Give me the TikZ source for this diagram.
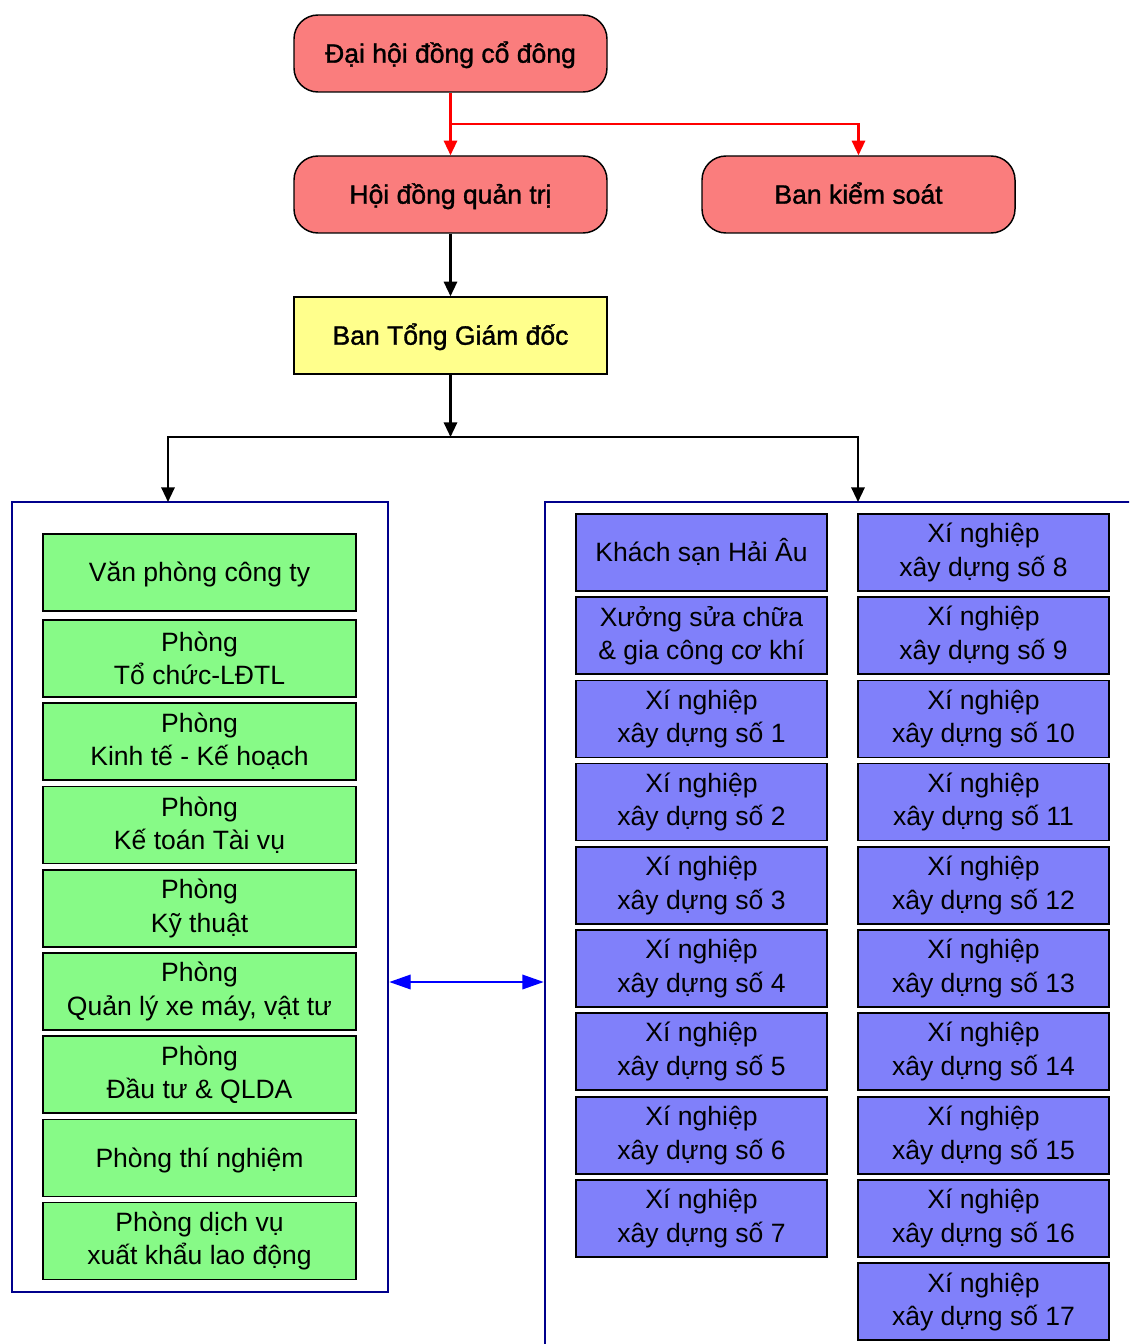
\documentclass[tikz,border=0pt]{standalone}
\usepackage{fontspec}
\setmainfont{Liberation Sans}
\newfontfamily\heavyish[FakeBold=1.2]{Liberation Sans}
\usetikzlibrary{arrows.meta,calc}
\definecolor{boxred}{RGB}{250,125,125}
\definecolor{boxyellow}{RGB}{255,255,140}
\definecolor{boxgreen}{RGB}{135,250,135}
\definecolor{boxblue}{RGB}{128,128,250}
\definecolor{navy}{RGB}{0,0,140}
\begin{document}
\begin{tikzpicture}[x=0.75pt,y=-0.75pt,
  base/.style={draw=black,line width=1.1pt,align=center,inner sep=0pt,
    font=\fontsize{19.9}{24.8}\selectfont,minimum height=57.75pt},
  oneline/.style={text height=17.3pt,text depth=3.5pt},
  topbox/.style={base,oneline,fill=boxred,rounded corners=18pt,minimum width=234.75pt,
    font=\heavyish\fontsize{19.9}{24.8}\selectfont},
  ybox/.style={base,oneline,fill=boxyellow,minimum width=234.75pt,
    font=\heavyish\fontsize{19.9}{24.8}\selectfont},
  gbox/.style={base,fill=boxgreen,minimum width=234.75pt},
  bbox/.style={base,fill=boxblue,minimum width=188.25pt},
  cont/.style={draw=navy,line width=2pt,inner sep=0pt},
  redarr/.style={draw=red,line width=1.6pt,-{Triangle[length=11pt,width=10pt]}},
  blkarr/.style={draw=black,line width=1.6pt,-{Triangle[length=11pt,width=10pt]}},
  bluearr/.style={draw=blue,line width=1pt,{Triangle[length=16pt,width=11pt]}-{Triangle[length=16pt,width=11pt]}}
]
\useasboundingbox (0,0) rectangle (1129,1344);
\clip (0,0) rectangle (1129,1344);

% containers
\node[cont,minimum width=282pt,minimum height=592.5pt] (Lc) at (200,897) {};
\node[cont,minimum width=491.25pt,minimum height=673.5pt] (Rc) at (872.5,951) {};

% top
\node[topbox] (dh) at (450.5,53.5) {Đại hội đồng cổ đông};
\node[topbox] (hd) at (450.5,194.5) {Hội đồng quản trị};
\node[topbox] (bks) at (858.5,194.5) {Ban kiểm soát};
\node[ybox] (btg) at (450.5,335.5) {Ban Tổng Giám đốc};

% green column
\node[gbox,oneline] (g1) at (199.5,572.5) {Văn phòng công ty};
\node[gbox] (g2) at (199.5,658.5) {Phòng\\Tổ chức-LĐTL};
\node[gbox] (g3) at (199.5,741.5) {Phòng\\Kinh tế - Kế hoạch};
\node[gbox] (g4) at (199.5,825) {Phòng\\Kế toán Tài vụ};
\node[gbox] (g5) at (199.5,908.5) {Phòng\\Kỹ thuật};
\node[gbox] (g6) at (199.5,991.5) {Phòng\\Quản lý xe máy, vật tư};
\node[gbox] (g7) at (199.5,1074.5) {Phòng\\Đầu tư \& QLDA};
\node[gbox,oneline] (g8) at (199.5,1158) {Phòng thí nghiệm};
\node[gbox] (g9) at (199.5,1241) {Phòng dịch vụ\\xuất khẩu lao động};

% blue left column
\node[bbox,oneline] (b1) at (701.5,552.5) {Khách sạn Hải Âu};
\node[bbox] (b2) at (701.5,635.5) {Xưởng sửa chữa\\\& gia công cơ khí};
\node[bbox] (b3) at (701.5,719) {Xí nghiệp\\xây dựng số 1};
\node[bbox] (b4) at (701.5,802) {Xí nghiệp\\xây dựng số 2};
\node[bbox] (b5) at (701.5,885.5) {Xí nghiệp\\xây dựng số 3};
\node[bbox] (b6) at (701.5,968.5) {Xí nghiệp\\xây dựng số 4};
\node[bbox] (b7) at (701.5,1051.5) {Xí nghiệp\\xây dựng số 5};
\node[bbox] (b8) at (701.5,1135.5) {Xí nghiệp\\xây dựng số 6};
\node[bbox] (b9) at (701.5,1218.5) {Xí nghiệp\\xây dựng số 7};

% blue right column
\node[bbox] (c8) at (983.5,552.5) {Xí nghiệp\\xây dựng số 8};
\node[bbox] (c9) at (983.5,635.5) {Xí nghiệp\\xây dựng số 9};
\node[bbox] (c10) at (983.5,719) {Xí nghiệp\\xây dựng số 10};
\node[bbox] (c11) at (983.5,802) {Xí nghiệp\\xây dựng số 11};
\node[bbox] (c12) at (983.5,885.5) {Xí nghiệp\\xây dựng số 12};
\node[bbox] (c13) at (983.5,968.5) {Xí nghiệp\\xây dựng số 13};
\node[bbox] (c14) at (983.5,1051.5) {Xí nghiệp\\xây dựng số 14};
\node[bbox] (c15) at (983.5,1135.5) {Xí nghiệp\\xây dựng số 15};
\node[bbox] (c16) at (983.5,1218.5) {Xí nghiệp\\xây dựng số 16};
\node[bbox] (c17) at (983.5,1301.5) {Xí nghiệp\\xây dựng số 17};

% connectors
\coordinate (rj) at (450.5,124);
\coordinate (bj) at (450.5,437);
\coordinate (la) at (168,502);
\coordinate (ra) at (858,502);
\draw[redarr] (dh.south) -- (hd.north);
\draw[redarr] (rj) -| (bks.north);
\draw[blkarr] (hd.south) -- (btg.north);
\draw[blkarr] (btg.south) -- (bj);
\draw[blkarr] (bj) -| (la);
\draw[blkarr] (bj) -| (ra);
\draw[bluearr] (Lc.east |- 0,982) -- (Rc.west |- 0,982);
\end{tikzpicture}
\end{document}
